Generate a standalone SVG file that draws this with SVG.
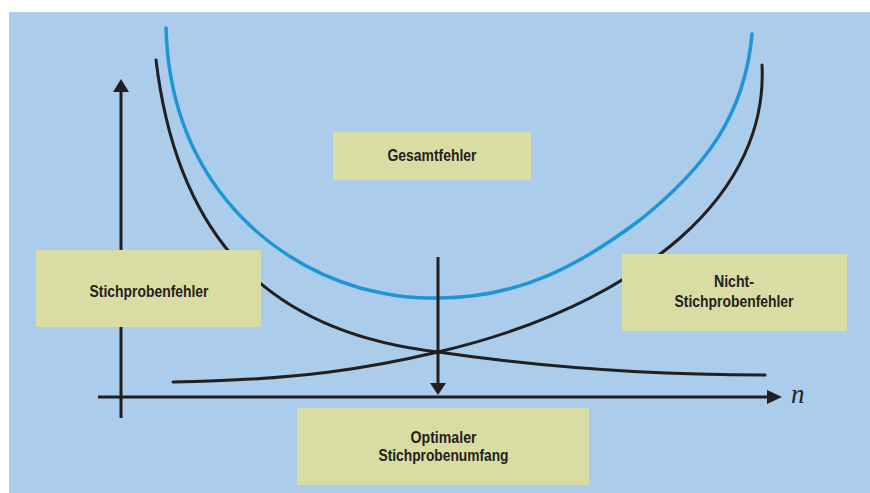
<svg xmlns="http://www.w3.org/2000/svg" width="870" height="493" viewBox="0 0 870 493">
<style>
.box{fill:#d9dda3}
.lbl{font-family:"Liberation Sans",Arial,sans-serif;font-weight:bold;font-size:16px;fill:#231f20;text-anchor:middle}
.blk{fill:none;stroke:#231f20;stroke-width:3;stroke-linecap:round}
.blue{fill:none;stroke:#1e96d6;stroke-width:3.5;stroke-linecap:round}
.ax{fill:none;stroke:#231f20;stroke-width:3}
.head{fill:#231f20}
</style>
<rect x="0" y="0" width="870" height="493" fill="#ffffff"/>
<rect x="9" y="12" width="861" height="481" fill="#abcdeb"/>
<g id="connectors">
<line class="ax" x1="121" y1="418" x2="121" y2="88"/>
<polygon class="head" points="121,79 113,92 129,92"/>
<line class="ax" x1="98" y1="397" x2="770" y2="397"/>
<polygon class="head" points="782,397 767,390 767,404"/>
<path class="blue" d="M166,28 C170,170 258,258 360,288 C400,298 415,298 438,298 C520,298 580,265 640,220 C705,168 745,115 752,34"/>
<path class="blk" d="M156,60 C180,260 290,335 438,352 C560,370 680,375 765,375"/>
<path class="blk" d="M173,382 C300,380 370,368 438,352 C540,328 620,290 680,238 C740,185 765,125 762,65"/>
<line class="ax" x1="438" y1="257" x2="438" y2="386"/>
<polygon class="head" points="438,395 430,383 446,383"/>
</g>
<text x="791" y="403" font-family="'Liberation Serif',serif" font-style="italic" font-size="27" fill="#231f20">n</text>
<g id="gesamtfehler">
<rect class="box" x="333" y="132" width="198" height="48"/>
<text class="lbl" x="432" y="161" textLength="89" lengthAdjust="spacingAndGlyphs">Gesamtfehler</text>
</g>
<g id="stichprobenfehler">
<rect class="box" x="36" y="250" width="225" height="77"/>
<text class="lbl" x="149" y="297" textLength="119" lengthAdjust="spacingAndGlyphs">Stichprobenfehler</text>
</g>
<g id="nicht-stichprobenfehler">
<rect class="box" x="622" y="254" width="225" height="77"/>
<text class="lbl" x="734" y="287" textLength="40" lengthAdjust="spacingAndGlyphs">Nicht-</text>
<text class="lbl" x="734" y="307" textLength="119" lengthAdjust="spacingAndGlyphs">Stichprobenfehler</text>
</g>
<g id="optimaler-stichprobenumfang">
<rect class="box" x="297" y="408" width="292" height="77"/>
<text class="lbl" x="443.5" y="443" textLength="66" lengthAdjust="spacingAndGlyphs">Optimaler</text>
<text class="lbl" x="443.5" y="461" textLength="130" lengthAdjust="spacingAndGlyphs">Stichprobenumfang</text>
</g>
</svg>
